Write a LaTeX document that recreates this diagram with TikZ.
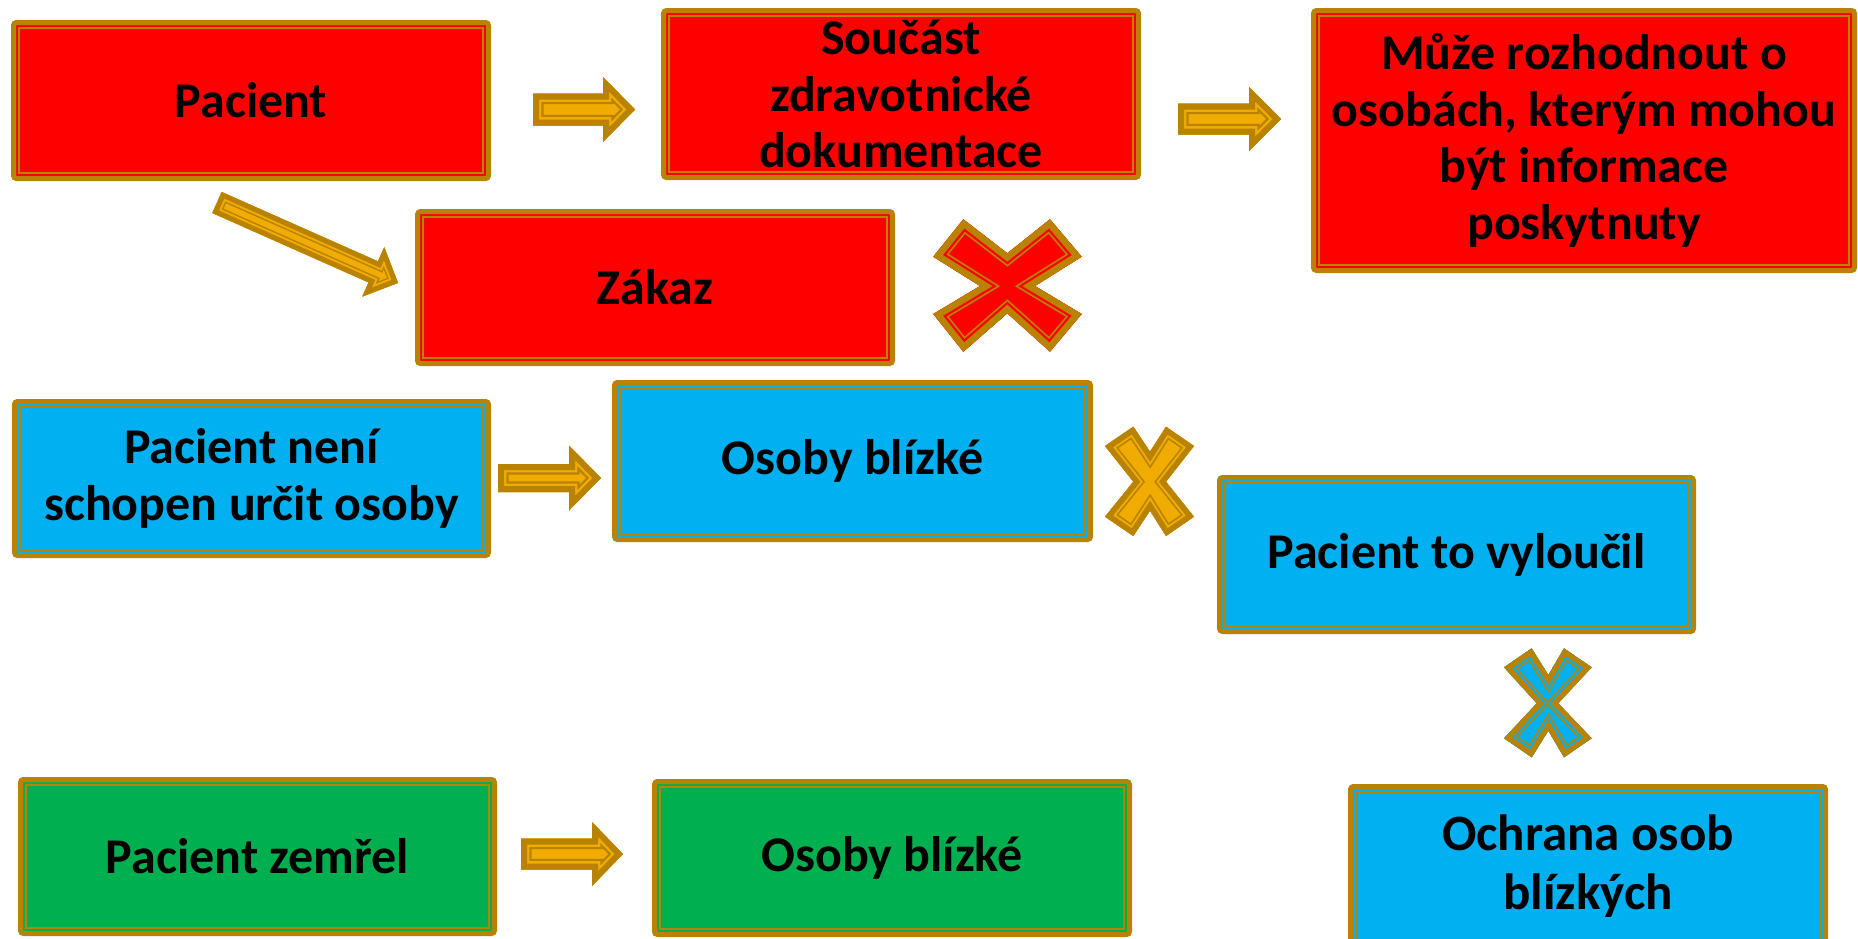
\documentclass[tikz,border=0pt]{standalone}
\usepackage{fontspec}
\setmainfont{Carlito}
\definecolor{gold}{RGB}{185,130,0}
\definecolor{arrowfill}{RGB}{240,172,0}
\definecolor{boxred}{RGB}{255,0,0}
\definecolor{boxblue}{RGB}{0,176,240}
\definecolor{boxgreen}{RGB}{0,176,80}
% #1 path, #2 fill, #3 line colour, #4 #5 #6 stroke widths (outer band, gap, inner line)
\newcommand\fancyshape[6]{%
\begin{scope}
\clip #1;
\fill[#2] #1;
\draw[#3,line width=#6pt,line join=miter] #1;
\draw[#2,line width=#5pt,line join=miter] #1;
\draw[#3,line width=#4pt,line join=miter] #1;
\end{scope}}
% right block arrow: x0, head base, tip, y centre, tail half, head half
\newcommand\rarrow[6]{\fancyshape{(#1,{#4-#5}) -- (#2,{#4-#5}) -- (#2,{#4-#6}) -- (#3,#4) -- (#2,{#4+#6}) -- (#2,{#4+#5}) -- (#1,{#4+#5}) -- cycle}{arrowfill}{gold}{12}{16.6}{21.2}}
\begin{document}
\begin{tikzpicture}[x=1pt,y=-1pt,
  box/.style={draw=gold, line width=5pt, rounded corners=3pt, inner sep=0pt,
    align=center, text=black, font=\fontsize{50}{56.5}\selectfont\bfseries,
    path picture={\draw[gold,line width=1.7pt,sharp corners]
      ([shift={(5.5pt,-5.5pt)}]path picture bounding box.north west) rectangle
      ([shift={(-5.5pt,5.5pt)}]path picture bounding box.south east);}}]
\useasboundingbox (0,0) rectangle (1858,938);

% boxes
\node[box, fill=boxred, minimum width=475pt, minimum height=156pt] (pac) at (251,100.5) {Pacient};
\node[box, fill=boxred, minimum width=475pt, minimum height=167pt] (soucast) at (901,94) {Součást\\zdravotnické\\dokumentace};
\node[box, fill=boxred, minimum width=541pt, minimum height=260pt] (muze) at (1584,140.5) {Může rozhodnout o\\osobách, kterým mohou\\být informace\\poskytnuty};
\node[box, fill=boxred, minimum width=475pt, minimum height=152pt] (zakaz) at (655,287.5) {Zákaz};
\node[box, fill=boxblue, minimum width=474pt, minimum height=154pt] (neni) at (251.5,478.5) {Pacient není\\schopen určit osoby};
\node[box, fill=boxblue, minimum width=476pt, minimum height=157pt] (blizke) at (852.5,461) {Osoby blízké};
\node[box, fill=boxblue, minimum width=474pt, minimum height=154pt] (vyloucil) at (1456.5,554.5) {Pacient to vyloučil};
\node[box, fill=boxgreen, minimum width=474pt, minimum height=154pt] (zemrel) at (257.5,856.5) {Pacient zemřel};
\node[box, fill=boxgreen, minimum width=475pt, minimum height=153pt] (blizke2) at (892,858) {Osoby blízké};
\node[box, fill=boxblue, minimum width=475pt, minimum height=160pt, font=\fontsize{51}{59}\selectfont\bfseries] (ochrana) at (1588,866.5) {Ochrana osob\\blízkých};

% block arrows
\rarrow{533}{603}{635}{109.5}{16}{32.5}
\rarrow{1178}{1249}{1281}{119}{15.5}{32}
\rarrow{498}{569}{601}{478}{14}{32.5}
\rarrow{521}{592}{623}{854}{15.5}{32}
\fancyshape{(221.7,192) -- (378,261.4) -- (384.3,247.2) -- (398,282.9) -- (362.3,296.6) -- (368.6,282.4) -- (212.3,213) -- cycle}{arrowfill}{gold}{10}{14}{17}

% crosses
\fancyshape{(963.3,219.3) -- (1007.3,253.3) -- (1050,219.3) -- (1081.7,256.7) -- (1035,286) -- (1081.7,314) -- (1050,351.7) -- (1007.3,313.3) -- (963.3,351.7) -- (933.3,314) -- (980,286) -- (933.3,256.7) -- cycle}{boxred}{gold}{13}{17.5}{21}
\fancyshape{(1105,446) -- (1133.3,426.7) -- (1150,451.7) -- (1166,426.7) -- (1194,446) -- (1166,481.7) -- (1194,516.7) -- (1166,536) -- (1150,510.7) -- (1133.3,536) -- (1105,516.7) -- (1133.3,481.7) -- cycle}{arrowfill}{gold}{11}{15}{18.4}
\fancyshape{(1504,667.3) -- (1531.7,648.3) -- (1548.3,675) -- (1564,648.3) -- (1591.7,667.3) -- (1558.3,703.3) -- (1591.7,738.3) -- (1564,757.3) -- (1548.3,730.7) -- (1531.7,757.3) -- (1504,738.3) -- (1536.7,703.3) -- cycle}{boxblue}{gold}{11}{15}{18.4}
\end{tikzpicture}
\end{document}
